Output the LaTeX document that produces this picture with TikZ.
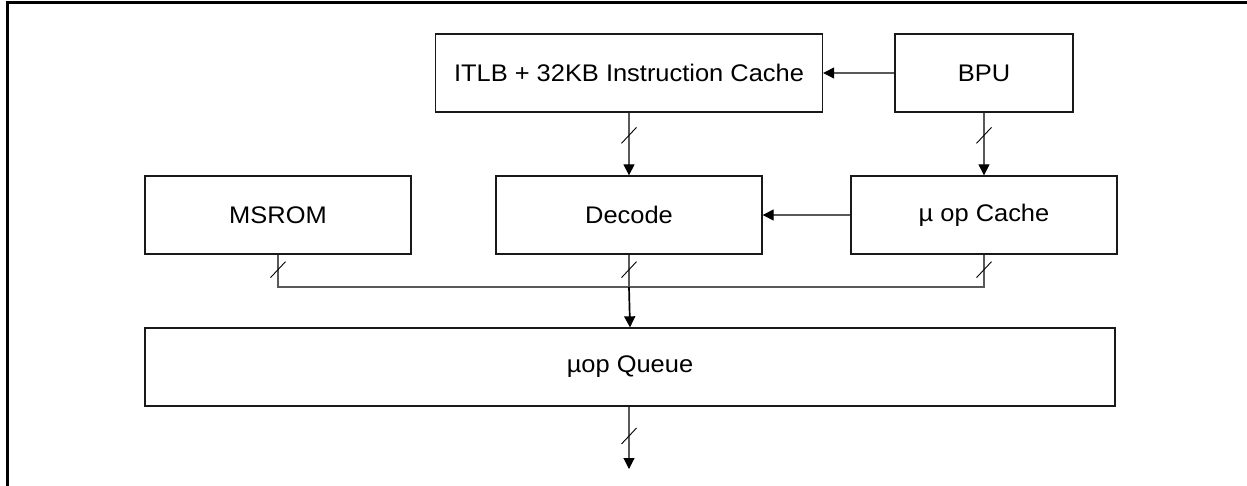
\documentclass[tikz,border=0pt]{standalone}
\usepackage{fontspec}
\setmainfont{Liberation Sans}[FakeStretch=1.06]
\usetikzlibrary{arrows.meta,calc}
\begin{document}
\begin{tikzpicture}[x=1pt,y=-1pt,
  blk/.style={draw=black!90,line width=1.3pt,fill=white,inner sep=0pt,
    minimum height=78pt,font=\fontsize{24}{28}\selectfont},
  conn/.style={draw=black!65,line width=1.1pt},
  arr/.style={conn,-{Triangle[length=11pt,width=11pt,fill=black,color=black]}},
  slashmark/.style={draw=black,line width=0.9pt}]
\useasboundingbox (0,0) rectangle (1247,486);
% outer frame (top and left edges)
\draw[line width=3pt,black] (7,490) -- (7,3) -- (1250,3);

% blocks
\node[blk,minimum width=387pt] (itlb)   at (629,73)  {ITLB + 32KB Instruction Cache};
\node[blk,minimum width=178pt] (bpu)    at (984,73)  {BPU};
\node[blk,minimum width=266pt] (msrom)  at (278,215) {MSROM};
\node[blk,minimum width=266pt] (decode) at (629,215) {Decode};
\node[blk,minimum width=266pt] (ucache) at (984,215) {µ op Cache};
\node[blk,minimum width=970pt] (queue)  at (630,367) {µop Queue};

\coordinate (bus) at (629,287);
\coordinate (out) at (629,469);

% connectors
\draw[arr] (bpu.west) -- (itlb.east);
\draw[arr] (ucache.west) -- (decode.east);
\draw[arr] (itlb.south -| decode.north) -- (decode.north);
\draw[arr] (bpu.south -| ucache.north) -- (ucache.north);
\draw[conn] (msrom.south) |- (bus) -| (ucache.south);
\draw[conn] (decode.south) -- (bus);
\draw[arr,draw=black,line width=1.7pt] (bus) -- (queue.north);
\draw[arr] (queue.south -| out) -- (out);

% bus-width slashes
\coordinate (s1) at ($(decode.north)+(0,-40)$);
\coordinate (s2) at ($(ucache.north)+(0,-40)$);
\coordinate (s3) at ($(msrom.south)+(0,15)$);
\coordinate (s4) at ($(decode.south)+(0,15)$);
\coordinate (s5) at ($(ucache.south)+(0,15)$);
\coordinate (s6) at ($(out)+(0,-33)$);
\foreach \s in {s1,s2,s3,s4,s5,s6}
  \draw[slashmark] (\s) ++(-7.5,8) -- ++(15,-16);
\end{tikzpicture}
\end{document}
